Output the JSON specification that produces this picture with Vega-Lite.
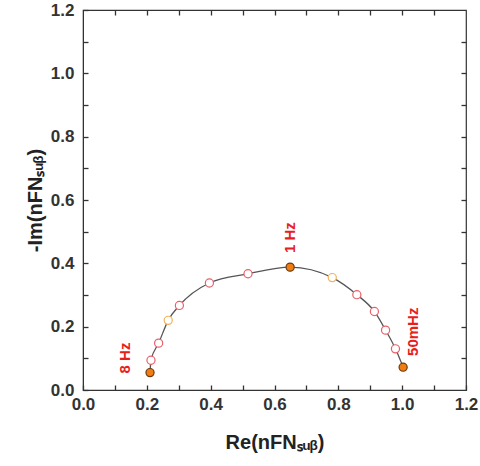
{
  "$schema": "https://vega.github.io/schema/vega-lite/v6.json",
  "width": 383,
  "height": 380,
  "autosize": {"type": "none"},
  "padding": {"left": 83, "top": 10, "right": 14, "bottom": 76},
  "config": {
    "view": {"stroke": "#333333", "strokeWidth": 1.2},
    "font": "Liberation Sans",
    "axis": {
      "labelFont": "Liberation Sans",
      "labelFontWeight": "bold",
      "labelFontSize": 17,
      "labelColor": "#333333",
      "titleFont": "Liberation Sans",
      "titleFontWeight": "bold",
      "titleFontSize": 20,
      "titleColor": "#222222",
      "domainColor": "#333333",
      "tickColor": "#333333",
      "tickWidth": 1.3,
      "grid": false
    }
  },
  "datasets": {
    "pts": [
      {"x": 0.210, "y": 0.055, "kind": "filled"},
      {"x": 0.213, "y": 0.094, "kind": "open"},
      {"x": 0.237, "y": 0.148, "kind": "open"},
      {"x": 0.267, "y": 0.220, "kind": "openOrange"},
      {"x": 0.302, "y": 0.267, "kind": "open"},
      {"x": 0.396, "y": 0.338, "kind": "open"},
      {"x": 0.517, "y": 0.367, "kind": "open"},
      {"x": 0.649, "y": 0.388, "kind": "filled"},
      {"x": 0.781, "y": 0.355, "kind": "openOrange"},
      {"x": 0.858, "y": 0.301, "kind": "open"},
      {"x": 0.913, "y": 0.248, "kind": "open"},
      {"x": 0.948, "y": 0.189, "kind": "open"},
      {"x": 0.979, "y": 0.130, "kind": "open"},
      {"x": 1.003, "y": 0.072, "kind": "filled"}
    ],
    "labels": [
      {"x": 0.132, "y": 0.101, "text": "8 Hz"},
      {"x": 0.649, "y": 0.481, "text": "1 Hz"},
      {"x": 1.033, "y": 0.184, "text": "50mHz"}
    ]
  },
  "resolve": {"axis": {"x": "independent", "y": "independent"}},
  "layer": [
    {
      "data": {"name": "pts"},
      "mark": {"type": "line", "color": "#555555", "strokeWidth": 1.3, "interpolate": "monotone"},
      "encoding": {
        "x": {"field": "x", "type": "quantitative", "sort": null,
          "scale": {"domain": [0, 1.2], "nice": false},
          "axis": {"title": "Re(nFNₛᵤᵦ)", "values": [0, 0.1, 0.2, 0.3, 0.4, 0.5, 0.6, 0.7, 0.8, 0.9, 1.0, 1.1, 1.2],
            "labelExpr": "(round(datum.value*10) % 2 == 0) ? format(datum.value, '.1f') : ''",
            "tickSize": -5, "labelPadding": 11, "titlePadding": 20, "labelFlush": false}},
        "y": {"field": "y", "type": "quantitative",
          "scale": {"domain": [0, 1.2], "nice": false},
          "axis": {"title": "-Im(nFNₛᵤᵦ)", "values": [0, 0.1, 0.2, 0.3, 0.4, 0.5, 0.6, 0.7, 0.8, 0.9, 1.0, 1.1, 1.2],
            "labelExpr": "(round(datum.value*10) % 2 == 0) ? format(datum.value, '.1f') : ''",
            "tickSize": -5, "labelPadding": 14, "titlePadding": 5, "labelFlush": false}}
      }
    },
    {
      "data": {"name": "pts"},
      "mark": {"type": "point", "opacity": 0},
      "encoding": {
        "x": {"field": "x", "type": "quantitative",
          "axis": {"orient": "top", "title": null, "labels": false, "domain": false,
            "values": [0.1, 0.2, 0.3, 0.4, 0.5, 0.6, 0.7, 0.8, 0.9, 1.0, 1.1], "tickSize": -5}},
        "y": {"field": "y", "type": "quantitative",
          "axis": {"orient": "right", "title": null, "labels": false, "domain": false,
            "values": [0.1, 0.2, 0.3, 0.4, 0.5, 0.6, 0.7, 0.8, 0.9, 1.0, 1.1], "tickSize": -5}}
      }
    },
    {
      "data": {"name": "pts"},
      "mark": {"type": "point", "filled": false, "size": 66, "strokeWidth": 1.2, "opacity": 1},
      "encoding": {
        "x": {"field": "x", "type": "quantitative", "axis": null},
        "y": {"field": "y", "type": "quantitative", "axis": null},
        "fill": {"field": "kind", "type": "nominal", "legend": null,
          "scale": {"domain": ["filled", "open", "openOrange"], "range": ["#F07D12", "#FFFFFF", "#FFFFFF"]}},
        "stroke": {"field": "kind", "type": "nominal", "legend": null,
          "scale": {"domain": ["filled", "open", "openOrange"], "range": ["#6B3A10", "#E8606A", "#F2B25A"]}}
      }
    },
    {
      "data": {"name": "labels"},
      "mark": {"type": "text", "angle": 270, "color": "#E8201C", "fontWeight": "bold", "fontSize": 15, "font": "Liberation Sans", "align": "center", "baseline": "middle"},
      "encoding": {
        "x": {"field": "x", "type": "quantitative", "axis": null},
        "y": {"field": "y", "type": "quantitative", "axis": null},
        "text": {"field": "text"}
      }
    }
  ]
}
